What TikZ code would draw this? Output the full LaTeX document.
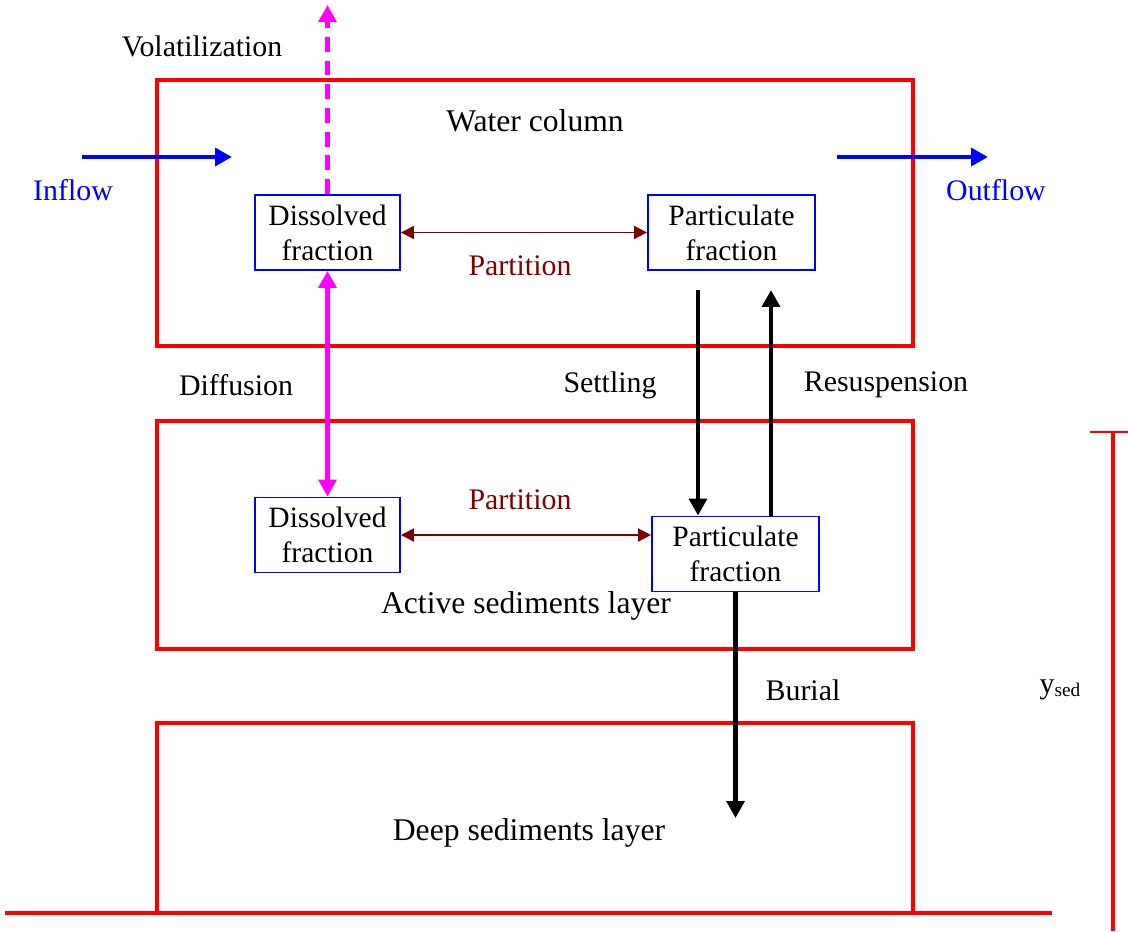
\documentclass[tikz,border=0pt]{standalone}
\usepackage{fontspec}
\setmainfont{Liberation Serif}
\usetikzlibrary{arrows.meta}
\definecolor{dkred}{RGB}{128,0,0}
\definecolor{pink}{RGB}{255,0,255}
\definecolor{pureblue}{RGB}{0,0,255}
\definecolor{purered}{RGB}{255,0,0}
\begin{document}
\begin{tikzpicture}[x=0.02cm,y=-0.02cm,font=\fontsize{17}{19.8}\selectfont]
\tikzstyle{Layer} = [draw=purered, line width=2.5pt, minimum width=15.12cm, inner sep=0]
\tikzstyle{Frac} = [draw=pureblue, line width=1.1pt, align=center, minimum height=1.5cm, inner sep=0, font=\fontsize{16.8}{19.8}\selectfont]
\tikzstyle{Big} = [font=\fontsize{18}{20}\selectfont]
\tikzstyle{inv} = [outer sep=0,inner sep=0,minimum size=0]
\tikzstyle{Flow} = [line width=2.8pt, -{Triangle[length=9.6pt,width=10pt]}]
\tikzstyle{Part} = [dkred, line width=1.1pt, {Triangle[length=7.4pt,width=7.4pt]}-{Triangle[length=7.4pt,width=7.4pt]}]
\useasboundingbox (0,0) rectangle (1128,931);
\node [Layer, minimum height=5.32cm] (v1) at (535,213) {};
\node [Layer, minimum height=4.56cm] (v2) at (535,535) {};
\node [Layer, minimum height=3.8cm] (v3) at (535,818) {};
\node [Frac, minimum width=2.9cm] (v4) at (327.5,232.5) {Dissolved\\fraction};
\node [Frac, minimum width=3.34cm] (v5) at (731.5,232.5) {Particulate\\fraction};
\node [Frac, minimum width=2.9cm] (v6) at (327.5,535) {Dissolved\\fraction};
\node [Frac, minimum width=3.34cm] (v7) at (735.5,554) {Particulate\\fraction};
\node [inv] (v8) at (327.5,5) {};
\node [inv] (v9) at (82,157) {};
\node [inv] (v10) at (232,157) {};
\node [inv] (v11) at (837,157) {};
\node [inv] (v12) at (988,157) {};
\node [inv] (v13) at (698,290) {};
\node [inv] (v14) at (771,290) {};
\node [inv] (v15) at (735.5,818) {};
\node [inv] (v16) at (5,913) {};
\node [inv] (v17) at (1052,913) {};
\node [inv] (v18) at (1113,931) {};
\node [inv] (v19) at (1113,432) {};
\node [inv] (v20) at (1090,432) {};
\node [inv] (v21) at (1128,432) {};
\node (l1) at (202,46) {Volatilization};
\node [Big] (l2) at (535,121) {Water column};
\node [pureblue] (l3) at (73,190) {Inflow};
\node [pureblue] (l4) at (996,190) {Outflow};
\node [dkred] (l5) at (520,266) {Partition};
\node (l6) at (236,385) {Diffusion};
\node (l7) at (610,385) {Settling};
\node (l8) at (886,385) {Resuspension};
\node [dkred] (l9) at (520,500) {Partition};
\node [Big] (l10) at (526,606) {Active sediments layer};
\node (l11) at (803,690) {Burial};
\node [Big] (l12) at (529,833) {Deep sediments layer};
\node (l13) at (1060,690) {y\raisebox{-0.2ex}{\fontsize{11}{11}\selectfont sed}};
\draw [purered, line width=2.8pt] (v16) -- (v17);
\draw [purered, line width=2.3pt] (v18) -- (v19);
\draw [purered, line width=1.4pt] (v20) -- (v21);
\draw [Flow, pink, dash pattern=on 8.5pt off 5pt] (v4) -- (v8);
\draw [Flow, pink, {Triangle[length=9.6pt,width=10pt]}-{Triangle[length=9.6pt,width=10pt]}] (v4) -- (v6);
\draw [Flow, pureblue] (v9) -- (v10);
\draw [Flow, pureblue] (v11) -- (v12);
\draw [Part] (v4) -- (v5);
\draw [Part] (v6.east) -- (v6.east -| v7.west);
\draw [Flow] (v13) -- (v13 |- v7.north);
\draw [Flow] (v14 |- v7.north) -- (v14);
\draw [Flow] (v7) -- (v15);
\end{tikzpicture}
\end{document}
